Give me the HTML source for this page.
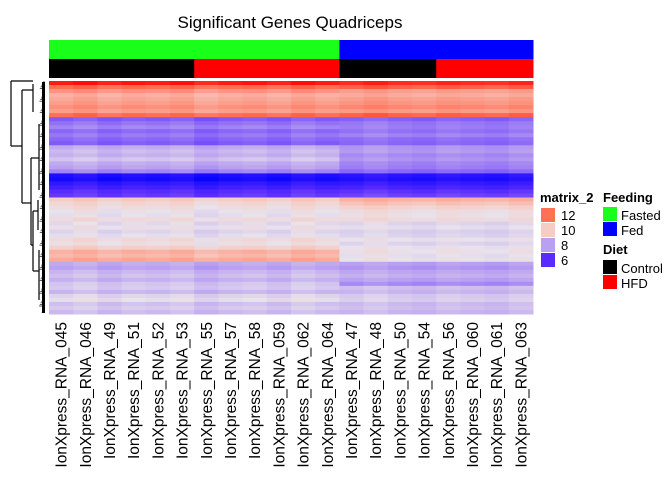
<!DOCTYPE html>
<html><head><meta charset="utf-8"><style>
body{margin:0;background:#fff;font-family:"Liberation Sans",sans-serif}
svg{display:block}
</style></head><body>
<svg width="672" height="480" xmlns="http://www.w3.org/2000/svg" id="chart">
<text x="290" y="28" font-size="17" text-anchor="middle">Significant Genes Quadriceps</text>
<g id="annot"></g>
<g id="cells"></g>
<g id="dendro" stroke="#000" fill="none" stroke-width="1.2"></g>
<g id="labels"></g>
<g id="legend" font-size="13"></g>
</svg>
<script>
const samples=["IonXpress_RNA_045","IonXpress_RNA_046","IonXpress_RNA_49","IonXpress_RNA_51","IonXpress_RNA_52","IonXpress_RNA_53","IonXpress_RNA_55","IonXpress_RNA_57","IonXpress_RNA_58","IonXpress_RNA_059","IonXpress_RNA_062","IonXpress_RNA_064","IonXpress_RNA_47","IonXpress_RNA_48","IonXpress_RNA_50","IonXpress_RNA_54","IonXpress_RNA_56","IonXpress_RNA_060","IonXpress_RNA_061","IonXpress_RNA_063"];
const feeding=["Fasted","Fasted","Fasted","Fasted","Fasted","Fasted","Fasted","Fasted","Fasted","Fasted","Fasted","Fasted","Fed","Fed","Fed","Fed","Fed","Fed","Fed","Fed"];
const diet=["Control","Control","Control","Control","Control","Control","HFD","HFD","HFD","HFD","HFD","HFD","Control","Control","Control","Control","HFD","HFD","HFD","HFD"];
const rowFasted=[13.2,12.0,11.2,10.6,10.8,11.0,11.3,11.0,12.0,6.8,7.2,7.5,7,7.3,7,6.8,8.2,8.5,8.3,8.7,8.2,8.0,7.5,5,4.8,5.3,5.6,6,6.2,10.0,9.7,9.5,9.3,9.2,9.6,9.1,9.4,9.0,9.2,9.6,9.4,9.9,10.6,10.4,10.8,8.2,8.0,8.4,8.6,8.3,8.7,8.8,8.4,9.0,9.2,8.6,8.8,8.5];
const rowFed=[13.0,12.2,11.0,10.7,11.0,11.2,11.5,11.1,12.2,6.9,7.3,7.4,7.2,7.5,7.1,7.0,7.8,7.9,7.6,7.8,7.5,7.4,7.0,5.2,5.0,5.4,5.7,6.1,6.4,10.6,10.2,9.8,9.5,9.4,9.6,9.0,9.2,8.9,9.0,9.3,9.0,9.3,9.4,9.2,9.3,8.0,7.8,8.1,8.3,8.0,7.6,8.6,8.4,8.8,8.9,8.5,8.6,8.4];
const colOffset=[0,0.2,-0.1,0.1,0,0.15,-0.2,0,0.1,-0.1,0.2,0,0,0.2,0,-0.1,0.1,0,-0.1,0.1];
const legendValues=[12,10,8,6];
const NS="http://www.w3.org/2000/svg";
const X0=49,X1=533,Y0=81,Y1=314;
const cw=(X1-X0)/samples.length, rh=(Y1-Y0)/rowFasted.length;
const xS=i=>X0+i*cw, yS=r=>Y0+r*rh;
const stops=[[4.5,[0,0,255]],[6,[90,43,255]],[8,[185,160,240]],[9.3,[232,226,236]],[10,[246,205,196]],[12,[255,112,85]],[13.6,[255,0,0]]];
function color(v){
 if(v<=stops[0][0])return "rgb(0,0,255)";
 for(let i=1;i<stops.length;i++){if(v<=stops[i][0]){const a=stops[i-1],b=stops[i],t=(v-a[0])/(b[0]-a[0]);return "rgb("+a[1].map((c,k)=>Math.round(c+(b[1][k]-c)*t)).join(",")+")";}}
 return "rgb(255,0,0)";}
function mk(tag,attrs,parent){const e=document.createElementNS(NS,tag);for(const k in attrs)e.setAttribute(k,attrs[k]);parent.appendChild(e);return e;}
const cells=document.getElementById("cells");
for(let r=0;r<rowFasted.length;r++){for(let c=0;c<samples.length;c++){
 const v=(feeding[c]==="Fed"?rowFed[r]:rowFasted[r])+colOffset[c];
 const e=mk("rect",{x:xS(c),y:yS(r),width:cw+0.5,height:rh+0.5,fill:color(v)},cells);
 
 
}}
const fcol={Fasted:"#1aff1a",Fed:"#0000ff"},dcol={Control:"#000",HFD:"#ff0000"};
const annot=document.getElementById("annot");
for(let c=0;c<samples.length;c++){
 const a=mk("rect",{x:xS(c),y:40,width:cw+0.5,height:19,fill:fcol[feeding[c]]},annot);
 
 
 const b=mk("rect",{x:xS(c),y:59,width:cw+0.5,height:19,fill:dcol[diet[c]]},annot);
 
 
}
const labels=document.getElementById("labels");
for(let c=0;c<samples.length;c++){
 const x=xS(c)+cw/2+5.5;
 const t=mk("text",{x:x,y:322,"font-size":"15.5","text-anchor":"end",transform:"rotate(-90 "+x+" 322)"},labels);
 t.textContent=samples[c];
 
 
}
const d=document.getElementById("dendro");
const segs=[[11,81,11,146],[11,81,33,81],[11,146,22,146],[22,90,22,203],[22,90,33,90],[33,84,33,112],[22,203,31,203],[31,158,31,245],[31,158,39,158],[31,245,33,245],[33,211,33,271],[39,124,39,190],[33,211,38,211],[33,271,39,271],[38,200,38,230],[39,250,39,300]];
segs.forEach(s=>{const l=mk("line",{x1:s[0],y1:s[1],x2:s[2],y2:s[3]},d);});
for(let y=82;y<313;y+=1.6){const l=mk("line",{x1:39+((y*7)%6),y1:y,x2:45,y2:y,"stroke-width":"0.8",stroke:"#333"},d);}
mk("line",{x1:43.5,y1:82,x2:43.5,y2:313,"stroke-width":"3"},d);
const lg=document.getElementById("legend");
function txt(x,y,s,bold,name){const t=mk("text",{x:x,y:y},lg);if(bold)t.setAttribute("font-weight","bold");t.textContent=s;}
txt(540,202,"matrix_2",true,"matrix-legend-title");
legendValues.forEach((v,i)=>{const r=mk("rect",{x:541,y:208+i*15,width:14,height:14,fill:color(v)},lg);txt(561,220+i*15,String(v),false,"matrix-legend-label");});
txt(603,202,"Feeding",true,"feeding-legend-title");
[["Fasted","#1aff1a"],["Fed","#0000ff"]].forEach((p,i)=>{const r=mk("rect",{x:603,y:207+i*15,width:14,height:14,fill:p[1]},lg);txt(621,220+i*15,p[0],false,"feeding-legend-label");});
txt(603,254,"Diet",true,"diet-legend-title");
[["Control","#000"],["HFD","#ff0000"]].forEach((p,i)=>{const r=mk("rect",{x:603,y:260+i*15,width:14,height:14,fill:p[1]},lg);txt(621,273+i*15,p[0],false,"diet-legend-label");});
</script>
</body></html>
